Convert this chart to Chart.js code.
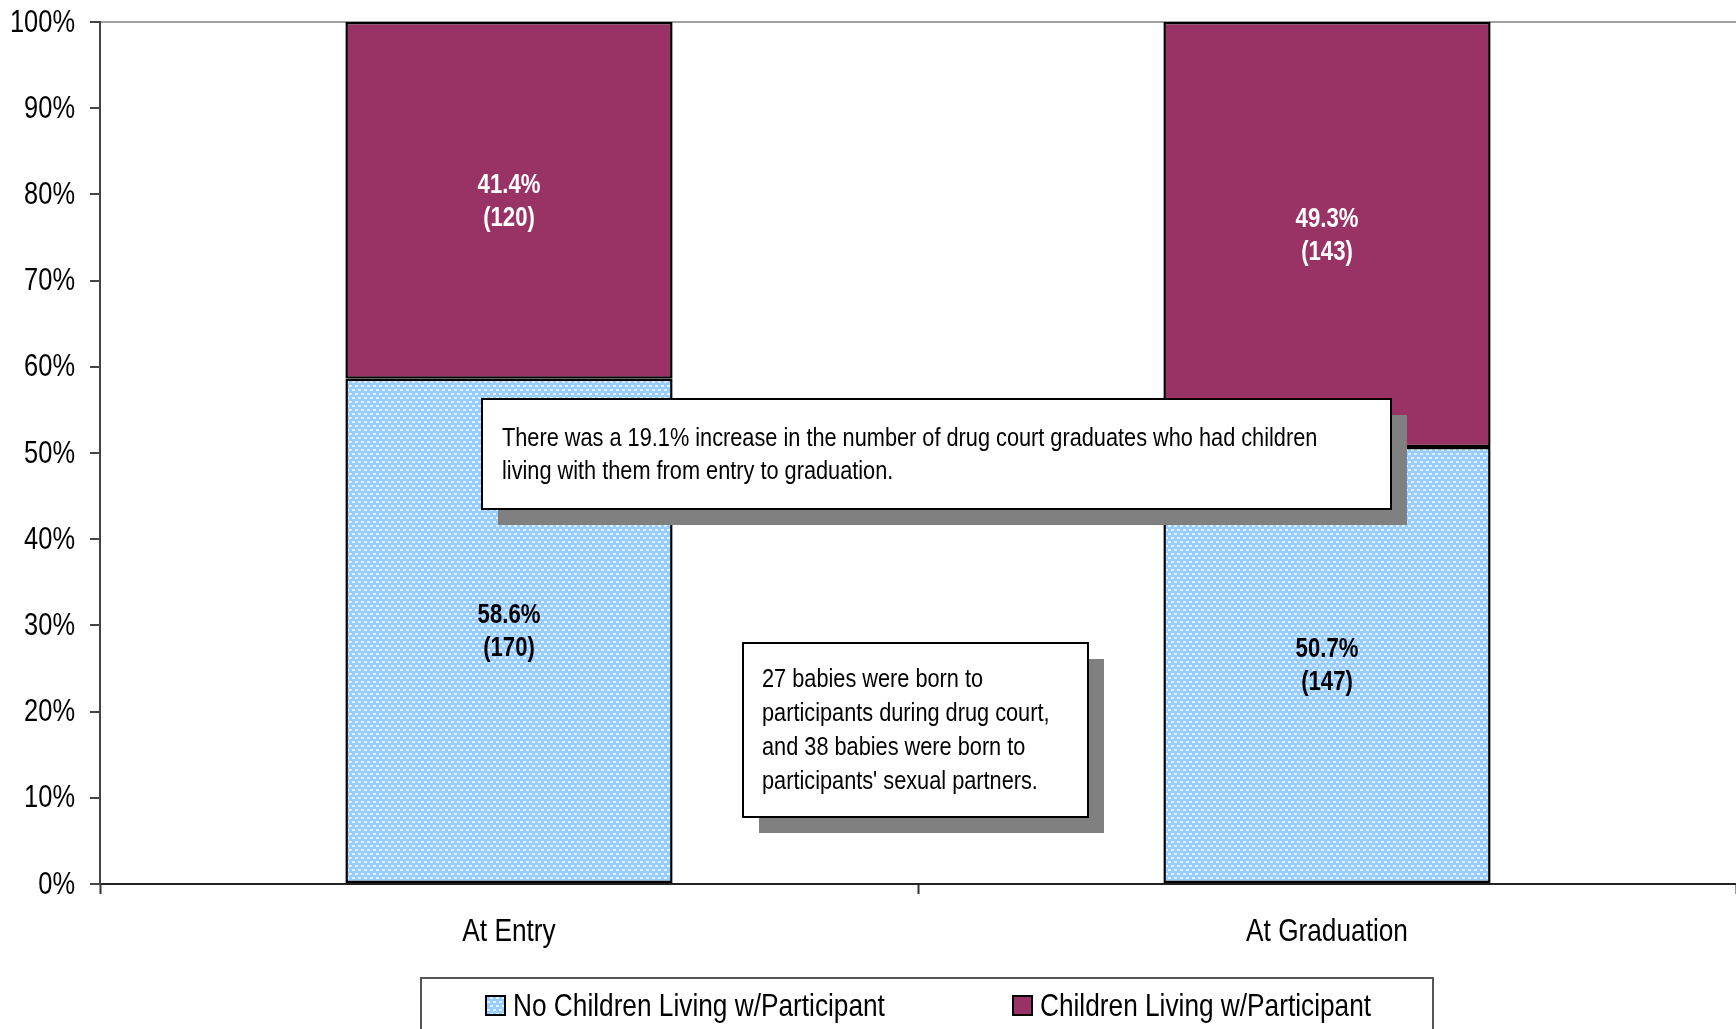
<!DOCTYPE html>
<html>
<head>
<meta charset="utf-8">
<script src="https://cdn.jsdelivr.net/npm/chart.js@4.4.1/dist/chart.umd.min.js"></script>
<style>
  html, body { margin: 0; padding: 0; background: #fff; }
  #wrap { width: 1736px; height: 1029px; }
</style>
</head>
<body>
<div id="wrap"><canvas id="kids" width="1736" height="1029"></canvas></div>
<script>
// categories and values
const categories = ["At Entry", "At Graduation"];
const noChildrenPct = [58.6, 50.7];
const noChildrenCount = [170, 147];
const childrenPct = [41.4, 49.3];
const childrenCount = [120, 143];
const seriesNames = ["No Children Living w/Participant", "Children Living w/Participant"];

const noteTop = ["There was a 19.1% increase in the number of drug court graduates who had children",
                 "living with them from entry to graduation."];
const noteBottom = ["27 babies were born to", "participants during drug court,",
                    "and 38 babies were born to", "participants' sexual partners."];

const FONT = '"Liberation Sans", Arial, sans-serif';
const NARROW = 0.82;   // squeeze Liberation Sans to a narrow face
const MAROON = "#993366";

// light blue fill with small white dots
function dotPattern(){
    const c = document.createElement("canvas");
    c.width = 6; c.height = 8;
    const g = c.getContext("2d");
    g.fillStyle = "#99ccff";
    g.fillRect(0, 0, 6, 8);
    g.fillStyle = "#e2f1ff";
    g.fillRect(1, 1, 3, 2);
    g.fillRect(4, 5, 2, 2);
    g.fillRect(0, 5, 1, 2);
    return g.createPattern(c, "repeat");
}
const BLUE_DOTS = dotPattern();

// draw text condensed horizontally
function narrowText(ctx, text, x, y, align){
    ctx.save();
    ctx.translate(x, y);
    ctx.scale(NARROW, 1);
    ctx.textAlign = align;
    ctx.textBaseline = "middle";
    ctx.fillText(text, 0, 0);
    ctx.restore();
}

// axis tick labels, placed from the chart's scales
const axisLabels = {
    id: "axisLabels",
    afterDraw(chart){
        const ctx = chart.ctx;
        const ys = chart.scales.y, xs = chart.scales.x;
        ctx.save();
        ctx.fillStyle = "#000";
        ctx.font = "31px " + FONT;
        ys.ticks.forEach(function(t, i){
            narrowText(ctx, t.value + "%", ys.right - 25, ys.getPixelForTick(i) + 1, "right");
        });
        ctx.font = "32px " + FONT;
        categories.forEach(function(c, i){
            narrowText(ctx, c, xs.getPixelForTick(i), xs.top + 48, "center");
        });
        ctx.restore();
    }
};

// two-line value labels in the middle of every segment
const segmentLabels = {
    id: "segmentLabels",
    afterDatasetsDraw(chart){
        const ctx = chart.ctx;
        const counts = [noChildrenCount, childrenCount];
        ctx.save();
        ctx.font = "bold 27px " + FONT;
        chart.data.datasets.forEach(function(ds, di){
            const meta = chart.getDatasetMeta(di);
            ctx.fillStyle = di === 0 ? "#000" : "#fff";
            meta.data.forEach(function(bar, i){
                const yc = (bar.y + bar.base) / 2;
                narrowText(ctx, ds.data[i].toFixed(1) + "%", bar.x, yc - 15, "center");
                narrowText(ctx, "(" + counts[di][i] + ")", bar.x, yc + 18, "center");
            });
        });
        ctx.restore();
    }
};

// text boxes with a grey drop shadow
function noteBox(ctx, x, y, w, h, lines, tx, ty, lh){
    ctx.fillStyle = "#808080";
    ctx.fillRect(x + 16, y + 16, w, h);
    ctx.fillStyle = "#fff";
    ctx.fillRect(x, y, w, h);
    ctx.strokeStyle = "#000";
    ctx.lineWidth = 2;
    ctx.strokeRect(x, y, w, h);
    ctx.fillStyle = "#000";
    ctx.font = "26.5px " + FONT;
    lines.forEach(function(t, i){ narrowText(ctx, t, tx, ty + i * lh, "left"); });
}
const notes = {
    id: "notes",
    afterDatasetsDraw(chart){
        const ctx = chart.ctx;
        ctx.save();
        noteBox(ctx, 482, 399, 909, 110, noteTop, 502, 439, 33);
        noteBox(ctx, 743, 643, 345, 174, noteBottom, 762, 680, 34);
        ctx.restore();
    }
};

// boxed legend under the axis
const boxedLegend = {
    id: "boxedLegend",
    afterDraw(chart){
        const ctx = chart.ctx;
        const fills = [BLUE_DOTS, MAROON];
        const sq = [486, 1013];
        ctx.save();
        ctx.strokeStyle = "#555";
        ctx.lineWidth = 2;
        ctx.strokeRect(421, 978, 1012, 60);
        ctx.font = "32px " + FONT;
        seriesNames.forEach(function(name, i){
            ctx.fillStyle = fills[i];
            ctx.fillRect(sq[i], 996, 19, 19);
            ctx.strokeStyle = "#000";
            ctx.strokeRect(sq[i], 996, 19, 19);
            ctx.fillStyle = "#000";
            narrowText(ctx, name, sq[i] + 27, 1007, "left");
        });
        ctx.restore();
    }
};

new Chart(document.getElementById("kids"), {
    type: "bar",
    data: {
        labels: categories,
        datasets: [
            { label: seriesNames[0], data: noChildrenPct, backgroundColor: BLUE_DOTS,
              borderColor: "#000", borderWidth: 2.5, borderSkipped: false },
            { label: seriesNames[1], data: childrenPct, backgroundColor: MAROON,
              borderColor: "#000", borderWidth: 2.5, borderSkipped: false }
        ]
    },
    options: {
        responsive: false,
        devicePixelRatio: 1,
        animation: false,
        layout: { padding: { top: 22, right: 0, left: 0, bottom: 0 } },
        datasets: { bar: { barPercentage: 0.4, categoryPercentage: 1.0 } },
        plugins: {
            legend: { display: false },
            tooltip: { enabled: false }
        },
        scales: {
            x: {
                stacked: true,
                afterFit: function(s){ s.height = 145; },
                grid: { offset: true, drawOnChartArea: false, tickLength: 10, tickColor: "#333", tickWidth: 2 },
                border: { color: "#222", width: 2 },
                ticks: { display: false }
            },
            y: {
                stacked: true,
                min: 0, max: 100,
                afterFit: function(s){ s.width = 100; },
                grid: {
                    color: function(c){ return c.tick && c.tick.value === 100 ? "#a0a0a0" : "rgba(0,0,0,0)"; },
                    lineWidth: 2,
                    tickLength: 10, tickColor: "#444", tickWidth: 2
                },
                border: { color: "#444", width: 2 },
                ticks: { display: false, stepSize: 10 }
            }
        }
    },
    plugins: [segmentLabels, notes, axisLabels, boxedLegend]
});
</script>
</body>
</html>
